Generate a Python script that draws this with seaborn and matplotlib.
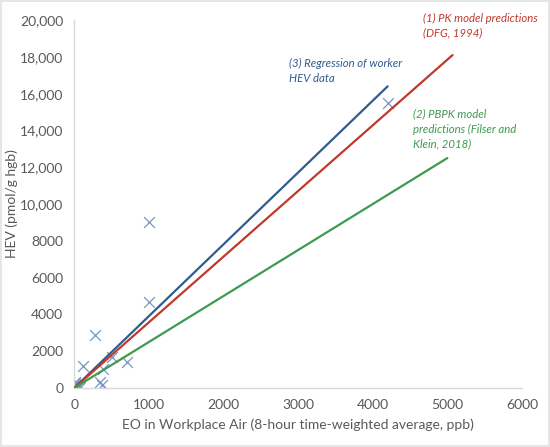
import matplotlib
matplotlib.use("Agg")
import matplotlib.pyplot as plt
from matplotlib.ticker import FuncFormatter, MultipleLocator
import pandas as pd
import seaborn as sns

# worker data (EO ppb vs HEV pmol/g hgb)
worker_eo = [4200, 1000, 1000, 280, 120, 710, 510, 390, 350, 375,
             50, 20, 10, 30, 0, 60, 5, 80, 15, 40, 0, 25, 8, 35, 12, 0, 45, 3]
worker_hev = [15500, 9000, 4650, 2900, 1200, 1420, 1690, 1030, 330, 160,
              200, 100, 50, 150, 0, 20, 250, 80, 300, 30, 120, 0, 180, 60, 10,
              40, 110, 90]

# model lines (start and end points)
pk_x = [0, 5070]
pk_y = [0, 18100]
pbpk_x = [0, 5000]
pbpk_y = [0, 12500]
reg_x = [0, 4200]
reg_y = [0, 16400]

red = "#C0392B"
green = "#3E9A4E"
blue = "#2F5C8F"
grey = "#595959"

sns.set_theme(style="white")
plt.rcParams["font.family"] = ["Lato", "DejaVu Sans"]

fig = plt.figure(figsize=(5.5, 4.47), dpi=100)
ax = fig.add_axes([0.135, 0.132, 0.814, 0.823])

df = pd.DataFrame({"eo": worker_eo, "hev": worker_hev})
sns.scatterplot(data=df, x="eo", y="hev", marker="x", s=60, color="#7895C2",
                linewidth=0.9, ax=ax, zorder=2)

sns.lineplot(x=reg_x, y=reg_y, color=blue, linewidth=1.6, ax=ax, zorder=3)
sns.lineplot(x=pk_x, y=pk_y, color=red, linewidth=1.6, ax=ax, zorder=3)
sns.lineplot(x=pbpk_x, y=pbpk_y, color=green, linewidth=1.6, ax=ax, zorder=3)

note = dict(style="italic", fontsize=8.2, linespacing=1.45)
ax.text(4670, 19700, "(1) PK model predictions\n(DFG, 1994)", color=red,
        va="center", **note)
ax.text(2880, 17250, "(3) Regression of worker\nHEV data", color=blue,
        va="center", **note)
ax.text(4540, 15200, "(2) PBPK model\npredictions (Filser and\nKlein, 2018)",
        color=green, va="top", **note)

ax.set_xlim(0, 6000)
ax.set_ylim(0, 20000)
ax.xaxis.set_major_locator(MultipleLocator(1000))
ax.yaxis.set_major_locator(MultipleLocator(2000))
ax.yaxis.set_major_formatter(FuncFormatter(
    lambda v, p: f"{v:,.0f}" if v >= 10000 else f"{v:.0f}"))
ax.tick_params(colors=grey, labelsize=10, length=0, pad=8)

ax.set_xlabel("EO in Workplace Air (8-hour time-weighted average, ppb)",
              color=grey, fontsize=10, labelpad=5)
ax.set_ylabel("HEV (pmol/g hgb)", color=grey, fontsize=10, labelpad=1)

for side in ["top", "right"]:
    ax.spines[side].set_visible(False)
for side in ["left", "bottom"]:
    ax.spines[side].set_color("#D9D9D9")
    ax.spines[side].set_linewidth(1.0)

fig.patch.set_edgecolor("#E6E6E6")
fig.patch.set_linewidth(1.5)

fig.savefig("out.png", dpi=100)
